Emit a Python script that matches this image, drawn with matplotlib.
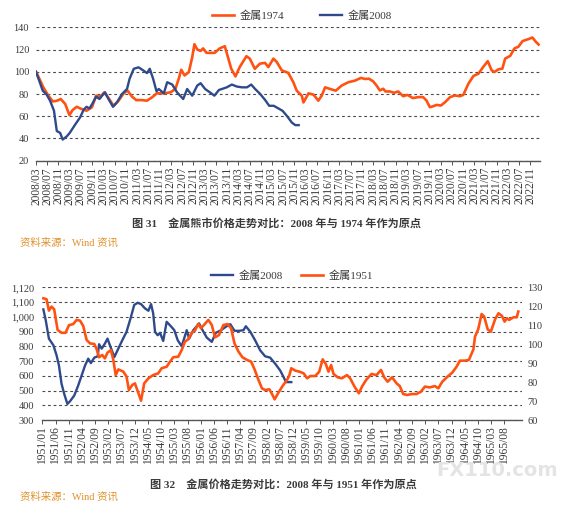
import numpy as np
import matplotlib.pyplot as plt

plt.rcParams['font.family'] = ['Liberation Serif', 'Noto Sans CJK SC']

# ---- figure 31: months since 2008/03 ----
m_1974 = [0, 1.4, 2.6, 4.4, 6, 7.4, 8.8, 10.4, 11.9, 13, 14.5, 16.3, 18, 19.9, 21.4, 23,
          24.3, 25.8, 27.6, 29.4, 31.2, 32.6, 34.2, 35.7, 37.7, 39.5, 41.3, 43, 45.5, 47.9,
          49.6, 50.8, 51.7, 52.9, 54.4, 55.6, 56.4, 57.4, 58.6, 59.5, 60.7, 63.6, 65.4, 67.2,
          68.3, 69.5, 71, 72.5, 74.9, 76.1, 77.9, 79.7, 81.5, 82.7, 84.5, 85.7, 87.5, 89.8,
          91.6, 92.8, 94.6, 95.2, 97, 98.8, 100.5, 101.7, 102.9, 104.7, 106.7, 108.8, 111.2,
          113.5, 115.7, 117.1, 118.5, 120, 121.2, 122.4, 123.6, 124.4, 125.9, 127.5, 128.9,
          130.7, 132.2, 134.2, 136, 137.8, 139, 140.2, 141.4, 142.6, 144.1, 145.6, 147.4,
          149.1, 150.9, 152.1, 153.9, 155.7, 157.5, 159.2, 160.8, 162.2, 163.2, 164.6, 166,
          167, 168.8, 170.3, 171.7, 173.2, 175.3, 176.7, 177.9, 178.9]
metal_1974 = [100, 92.7, 86, 78.5, 73.3, 73.9, 75.5, 71, 61, 65.5, 68.5, 66.4, 65, 68, 78.5,
              77.6, 81.5, 76.4, 69.4, 74, 80.6, 83, 77.6, 74.5, 74.5, 74, 77, 80.6, 80.6, 81.5,
              84.5, 93.6, 101.8, 96.7, 99.7, 113, 124.8, 120, 118.8, 121, 117, 117, 121, 123,
              113.3, 102.7, 95.8, 104.2, 114, 111.8, 102.7, 107.3, 108, 104.2, 111.8, 108.8,
              101.2, 99, 90.6, 83, 78.5, 72.4, 80.6, 79.4, 74, 78.5, 86, 84.5, 83, 87.6, 90.6,
              92, 94.5, 93.5, 93.8, 91.4, 87.7, 83.2, 84.7, 82.3, 82.3, 81.1, 82.3, 78, 79.2,
              76.3, 77.2, 77.2, 74.1, 68.1, 69, 70.2, 69.6, 72.6, 77.2, 78.7, 78, 79.2, 89.2,
              96.2, 98.3, 104.4, 109.5, 101.3, 99.8, 102.2, 102.8, 111.9, 114.3, 121, 122.5,
              127.6, 129.4, 130.8, 127, 124.5]

m_2008a = [0, 2.4, 3.8, 5, 6.4, 7.4, 8.6, 9.5, 11, 12, 14, 15.7, 17, 18, 19, 20, 21.4, 22.6,
           23.8, 24.6, 25.8, 27.4, 28.8, 30.6, 32.4, 33.3, 34.8, 36.5, 38.3, 39.5, 40.5, 41.7,
           42.9, 43.7, 45.5, 46.7, 48.5, 50.2, 52.4, 53.8, 55.6, 57.4, 58.6, 60.2, 61.9, 63.5,
           65.1, 67.9, 69.7, 71.5, 73.3, 75.1, 76.6, 78, 79.8, 81.6, 83, 84.6, 86.1, 87.8,
           89.3, 91.1, 92.3, 93.5]
metal_2008a = [100, 83, 79.4, 74, 65, 46.7, 45, 39, 42, 45, 52.7, 59, 66, 68.5, 67, 71, 77.6,
               75.5, 79.4, 81.5, 75.5, 68.5, 72.4, 80, 84.5, 93.6, 102.7, 104, 101, 98.8,
               102.7, 93.6, 82.4, 84.5, 80.6, 90.6, 88.5, 81.5, 75.5, 84.5, 78.5, 87.6, 89.7,
               84.5, 81.5, 78.5, 83.6, 86, 88.5, 86.7, 86, 86, 88.5, 84.5, 80, 74.5, 69.4,
               69.4, 67.3, 64.8, 60.3, 54.2, 52, 52]

ticks_top = list(range(0, 177, 4))
labels_top = ["%d/%02d" % (2008 + (2 + m) // 12, (2 + m) % 12 + 1) for m in ticks_top]

# ---- figure 32: months since 1951/01 (2008 on left axis, 1951 on right) ----
m_2008b = [0.4, 1.3, 2.5, 4.2, 5.4, 6.3, 7.3, 8.3, 9.5, 10.5, 12.1, 13.6, 14.9, 16.2, 17.4,
           18.4, 19.7, 21, 21.5, 22.5, 23.7, 24.7, 25.6, 27.3, 28.5, 30.3, 31.9, 33.6, 34.8,
           36.1, 37.4, 38.9, 40.2, 41.2, 42, 42.7, 43.7, 44.6, 45.8, 47.1, 48.7, 50, 51.3,
           52.8, 54.7, 55.6, 57.2, 59.4, 60.7, 62.3, 64.2, 65.7, 67.7, 69.5, 71.2, 72.8, 74.6,
           76.2, 77.1, 78.8, 80.6, 82.5, 84.4, 86.3, 88.2, 90.1, 91.4, 92.3, 94.3]
metal_2008b = [1050, 977, 852, 807, 739, 670, 545, 477, 409, 427, 466, 534, 602, 670, 716,
               686, 723, 732, 814, 784, 818, 852, 807, 727, 773, 841, 898, 1000, 1080, 1095,
               1086, 1057, 1041, 1086, 1023, 898, 875, 891, 836, 966, 936, 909, 841, 800, 909,
               852, 909, 955, 909, 859, 830, 891, 909, 932, 950, 905, 905, 909, 936, 898, 841,
               773, 732, 723, 682, 636, 591, 557, 557]

m_1951 = [0.4, 1.6, 2.5, 3.5, 4.5, 5.8, 7.3, 8.8, 10.1, 11.7, 13, 14.3, 15.5, 16.8, 18.1, 19.7,
          20.6, 21.5, 22.7, 23.7, 24.7, 26, 26.9, 27.8, 28.8, 30.7, 31.9, 32.8, 34.1, 35.1,
          36.4, 37.4, 38.6, 40.2, 42, 43.9, 45.2, 47.1, 48.4, 49.6, 51.5, 52.8, 54, 55.3, 56.6,
          57.8, 59.1, 60.1, 61.6, 62.9, 64.2, 65.4, 66.9, 68.6, 70.2, 71.5, 72.8, 74.3, 75.8,
          77.5, 79.1, 80.4, 81.9, 83.2, 84.4, 86, 87.2, 88, 89.3, 91, 92.7, 93.6, 94.3, 95.9,
          97.4, 99, 100.3, 101.5, 103.4, 104.9, 106.2, 107.4, 108.4, 109.4, 110.3, 111.9,
          113.5, 115.4, 116.6, 118.3, 119.9, 121.2, 122.8, 124.7, 126.6, 128.3, 129.5, 130.8,
          132.5, 134.2, 135.4, 136.7, 138.3, 139.8, 141.7, 143.4, 144.9, 146.8, 148.7, 150,
          151.5, 153.5, 155.3, 156.9, 158.2, 160.1, 161.6, 163.3, 163.9, 165.1, 166.4, 167.4,
          168.7, 169.9, 171.5, 172.8, 174.1, 175.1, 176, 176.8, 178.5, 179.7, 180.3]
metal_1951 = [124.2, 123.7, 117.7, 119.8, 118.4, 107.5, 106, 106, 110, 110.6, 112.8, 112.4,
              109.6, 102.2, 100.4, 100.1, 97.3, 93.1, 94.3, 92.5, 95.5, 96.9, 91.7, 83.7, 86.7,
              85.5, 82.9, 75.8, 78.5, 79.3, 74.1, 70.2, 79.3, 82, 83.7, 84.6, 87.3, 88.1, 90.8,
              93.1, 93.4, 96.9, 101.3, 102.6, 106.1, 107.1, 110.7, 108.4, 110.7, 112.8, 110.1,
              103.6, 104.8, 110.1, 110.6, 108.4, 100.4, 96.1, 93.1, 91.7, 90.8, 86.7, 81.1,
              76.7, 75.8, 76.2, 73.2, 70.9, 74.1, 77.9, 81.1, 83.7, 87.3, 86, 85.5, 84.6, 82,
              83.2, 83.2, 85.5, 92, 89.5, 85.5, 89, 84.3, 82.5, 82, 83.7, 82, 77.5, 74.1, 77.9,
              81.4, 84.3, 83.7, 86.4, 82.5, 80.2, 82.5, 79.3, 77.9, 73.7, 73.2, 73.7, 73.7,
              74.9, 77.6, 77.2, 77.9, 76.7, 80.2, 82.9, 85, 88.1, 91.3, 91.3, 91.7, 97.3, 104,
              107.8, 115.9, 114.5, 107.8, 106.6, 113.1, 116.3, 114.9, 111.9, 113.7, 112.8,
              114.2, 114.2, 117.2]

ticks_bot = list(range(0, 176, 5))
labels_bot = ["%d/%02d" % (1951 + m // 12, m % 12 + 1) for m in ticks_bot]
left_ticks = list(range(300, 1201, 100))
left_labels = ["300", "400", "500", "600", "700", "800", "900", "1,000", "1,100", "1,120"]
right_ticks = list(range(60, 131, 10))

orange = '#ff5212'
blue = '#2f4a8c'
grid_c = '#4a4a4a'
txt_c = '#3a3a3a'
src_c = '#e0902a'
W, H = 566, 509


def style_axis(ax):
    for s in ['top', 'left', 'right']:
        ax.spines[s].set_visible(False)
    ax.spines['bottom'].set_color('#555555')
    ax.spines['bottom'].set_linewidth(1.0)
    ax.yaxis.grid(True, color=grid_c, linestyle=(0, (2.5, 2.5)), linewidth=0.8)
    ax.set_axisbelow(True)
    ax.tick_params(axis='y', length=0, labelsize=7.5, labelcolor=txt_c)
    ax.tick_params(axis='x', length=3, width=0.7, color='#555555', labelsize=8.3,
                   labelcolor=txt_c, labelrotation=90, pad=1.5)


fig = plt.figure(figsize=(W / 100, H / 100), dpi=100)

# top chart
ax1 = fig.add_axes([36 / W, 1 - 160.7 / H, 504 / W, 133.4 / H])
ax1.plot(m_1974, metal_1974, color=orange, lw=1.9, label='金属1974')
ax1.plot(m_2008a, metal_2008a, color=blue, lw=1.7, label='金属2008')
ax1.set_xlim(0, 179.4)
ax1.set_ylim(20, 140)
ax1.set_yticks(range(20, 141, 20))
ax1.set_xticks(ticks_top)
ax1.set_xticklabels(labels_top)
style_axis(ax1)
ax1.tick_params(axis='y', pad=5)
ax1.legend(loc='center', bbox_to_anchor=(302 / W, 1 - 16 / H), bbox_transform=fig.transFigure,
           ncol=2, frameon=False, fontsize=8, handlelength=2.0, handletextpad=0.5,
           columnspacing=3.2, labelcolor=txt_c)

fig.text(276 / W, 1 - 223 / H, '图 31　金属熊市价格走势对比：2008 年与 1974 年作为原点',
         ha='center', va='center', fontsize=8, weight='bold', color=txt_c)
fig.text(20 / W, 1 - 243 / H, '资料来源：Wind 资讯', ha='left', va='center',
         fontsize=7.5, color=src_c)

# bottom chart
ax2 = fig.add_axes([42.3 / W, 1 - 420 / H, 479.7 / W, 132.7 / H])
ax3 = ax2.twinx()
ax2.plot(m_2008b, metal_2008b, color=blue, lw=1.7, label='金属2008')
ax3.plot(m_1951, metal_1951, color=orange, lw=1.9, label='金属1951')
ax2.set_xlim(0, 181.7)
ax2.set_ylim(300, 1200)
ax2.set_yticks(left_ticks)
ax2.set_yticklabels(left_labels)
ax3.set_ylim(60, 130)
ax3.set_yticks(right_ticks)
ax2.set_xticks(ticks_bot)
ax2.set_xticklabels(labels_bot)
style_axis(ax2)
ax2.tick_params(axis='y', pad=6)
for s in ['top', 'left', 'right', 'bottom']:
    ax3.spines[s].set_visible(False)
ax3.tick_params(axis='y', length=0, labelsize=7.5, labelcolor=txt_c, pad=4)
h2, l2 = ax2.get_legend_handles_labels()
h3, l3 = ax3.get_legend_handles_labels()
ax3.legend(h2 + h3, l2 + l3, loc='center', bbox_to_anchor=(292 / W, 1 - 276 / H),
           bbox_transform=fig.transFigure, ncol=2, frameon=False, fontsize=8,
           handlelength=2.0, handletextpad=0.5, columnspacing=1.6, labelcolor=txt_c)

fig.text(283 / W, 1 - 484 / H, '图 32　金属价格走势对比：2008 年与 1951 年作为原点',
         ha='center', va='center', fontsize=8, weight='bold', color=txt_c)
fig.text(20 / W, 1 - 497 / H, '资料来源：Wind 资讯', ha='left', va='center',
         fontsize=7.5, color=src_c)
fig.text(497 / W, 1 - 470 / H, 'FX110.com', ha='center', va='center', fontsize=14,
         weight='bold', color='#e4e4e4', family='DejaVu Sans')

fig.savefig('out.png', dpi=100)
